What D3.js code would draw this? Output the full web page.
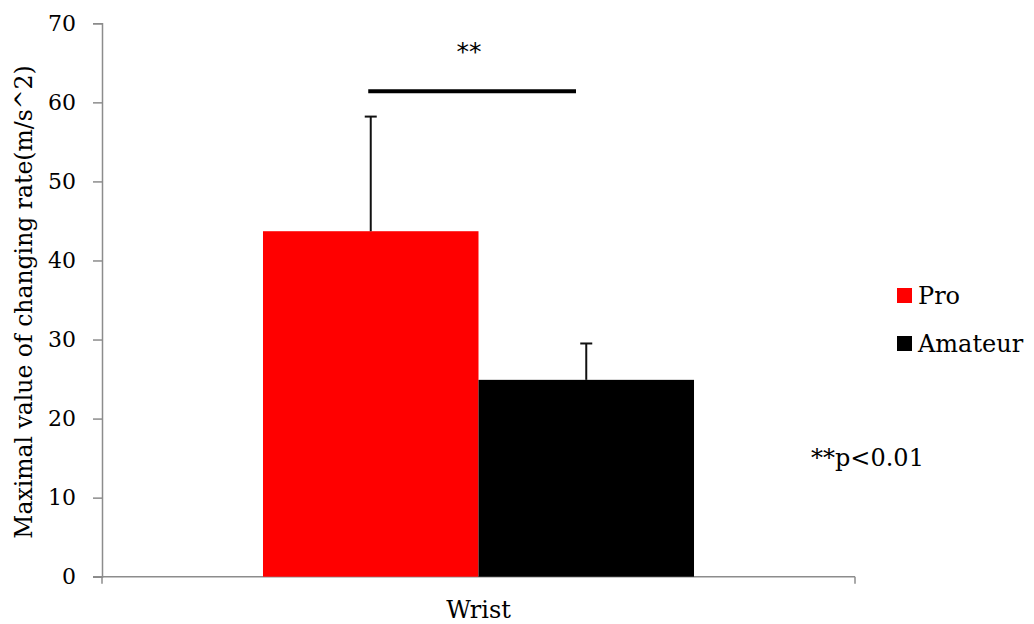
<!DOCTYPE html>
<html>
<head>
<meta charset="utf-8">
<script src="https://cdn.jsdelivr.net/npm/d3@7"></script>
<style>
  html, body { margin: 0; padding: 0; background: #fff; }
  svg { display: block; }
  text { font-family: "DejaVu Serif", serif; fill: #000; }
</style>
</head>
<body>
<svg id="chart" width="1034" height="624"></svg>
<script>
// Data
const categories = ["Wrist"];
const seriesNames = ["Pro", "Amateur"];
const seriesColors = ["#ff0000", "#000000"];
const meanValues = [43.7, 24.9];
const errorValues = [14.5, 4.6];
const yTicks = [0, 10, 20, 30, 40, 50, 60, 70];
const significanceLabel = "**";
const noteLabel = "**p<0.01";
const yTitle = "Maximal value of changing rate(m/s^2)";

const svg = d3.select("#chart");
const margin = { left: 102, right: 855, top: 23.3, bottom: 576.7 };

const y = d3.scaleLinear().domain([0, 70]).range([margin.bottom, margin.top]);
const x0 = d3.scaleBand().domain(categories).range([margin.left, margin.right]).paddingInner(0).paddingOuter(0.3735);
const x1 = d3.scaleBand().domain(seriesNames).range([0, x0.bandwidth()]);
const color = d3.scaleOrdinal().domain(seriesNames).range(seriesColors);

// Y axis
const yAxis = d3.axisLeft(y).tickValues(yTicks).tickSize(9).tickPadding(17);
const gy = svg.append("g").attr("transform", `translate(${margin.left},0)`).call(yAxis);
gy.select(".domain").attr("stroke", "#8c8c8c").attr("stroke-width", 1.5);
gy.selectAll(".tick line").attr("stroke", "#8c8c8c").attr("stroke-width", 1.5);
gy.selectAll(".tick text").style("font-family", "DejaVu Serif, serif").style("font-size", "22px").attr("fill", "#000");

// X axis baseline with end ticks
const gx = svg.append("g");
gx.append("line").attr("x1", margin.left - 9).attr("x2", margin.right)
  .attr("y1", y(0)).attr("y2", y(0)).attr("stroke", "#8c8c8c").attr("stroke-width", 1.5);
[margin.left, margin.right].forEach(px => {
  gx.append("line").attr("x1", px).attr("x2", px).attr("y1", y(0)).attr("y2", y(0) + 7)
    .attr("stroke", "#8c8c8c").attr("stroke-width", 1.5);
});
gx.selectAll("text.cat").data(categories).join("text").attr("class", "cat")
  .attr("x", d => x0(d) + x0.bandwidth() / 2).attr("y", 618)
  .attr("text-anchor", "middle").style("font-size", "24px").text(d => d);

// Bars
const barData = seriesNames.map((s, i) => ({ cat: categories[0], name: s, value: meanValues[i], err: errorValues[i] }));
const bars = svg.append("g");
bars.selectAll("rect").data(barData).join("rect")
  .attr("x", d => x0(d.cat) + x1(d.name))
  .attr("width", x1.bandwidth())
  .attr("y", d => y(d.value))
  .attr("height", d => y(0) - y(d.value))
  .attr("fill", d => color(d.name));

// Error bars (upper only)
const errs = svg.append("g").attr("stroke", "#111").attr("stroke-width", 2);
barData.forEach(d => {
  const cx = x0(d.cat) + x1(d.name) + x1.bandwidth() / 2;
  errs.append("line").attr("x1", cx).attr("x2", cx).attr("y1", y(d.value)).attr("y2", y(d.value + d.err));
  errs.append("line").attr("x1", cx - 6).attr("x2", cx + 6).attr("y1", y(d.value + d.err)).attr("y2", y(d.value + d.err));
});

// Significance bracket
const sigLeft = x0(categories[0]) + x1(seriesNames[0]) + x1.bandwidth() / 2 - 2.5;
const sigRight = 576;
svg.append("line").attr("x1", sigLeft).attr("x2", sigRight).attr("y1", 91.3).attr("y2", 91.3)
  .attr("stroke", "#000").attr("stroke-width", 4);
svg.append("text").attr("x", 469).attr("y", 60)
  .attr("text-anchor", "middle").style("font-size", "25px").style("font-family", "DejaVu Sans, sans-serif").text(significanceLabel);

// Legend
const legend = svg.append("g");
seriesNames.forEach((s, i) => {
  const ly = 288 + i * 48;
  legend.append("rect").attr("x", 897).attr("y", ly).attr("width", 15).attr("height", 15).attr("fill", color(s));
  legend.append("text").attr("x", 918).attr("y", ly + 16).style("font-size", "24px").text(s);
});

// Note
svg.append("text").attr("x", 811).attr("y", 466).style("font-size", "24px").text(noteLabel);

// Y title
svg.append("text").attr("transform", `translate(32,${(margin.top + margin.bottom) / 2 + 2}) rotate(-90)`)
  .attr("text-anchor", "middle").style("font-size", "23.5px").text(yTitle);
</script>
</body>
</html>
